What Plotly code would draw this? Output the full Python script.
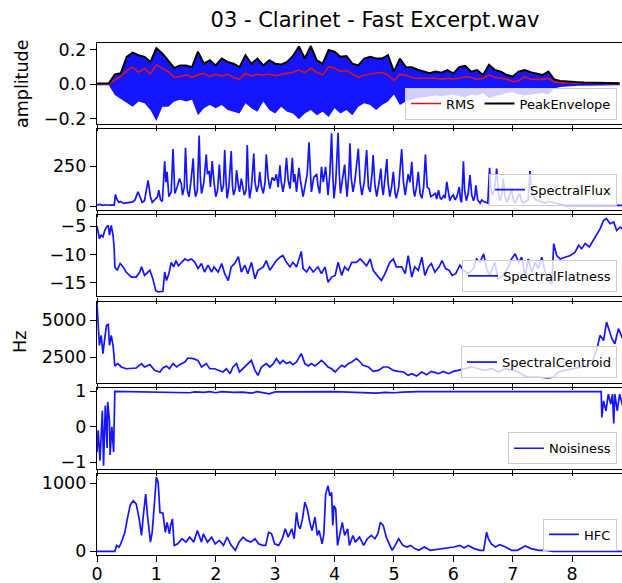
import numpy as np
import plotly.graph_objects as go

# ---------------- data ----------------
title_text = "03 - Clarinet - Fast Excerpt.wav"

amp_t = np.round(np.arange(0, 8.81, 0.1), 2)
peak_env = [0.005,0.005,0.006,0.058,0.064,0.16,0.185,0.17,0.16,0.13,
            0.21,0.18,0.14,0.095,0.11,0.11,0.10,0.19,0.12,0.14,
            0.11,0.15,0.13,0.12,0.10,0.17,0.12,0.15,0.11,0.14,
            0.12,0.115,0.13,0.165,0.22,0.15,0.223,0.14,0.12,0.20,
            0.19,0.16,0.165,0.12,0.11,0.15,0.16,0.15,0.15,0.17,
            0.074,0.15,0.10,0.10,0.085,0.074,0.064,0.074,0.068,0.083,
            0.064,0.10,0.107,0.074,0.083,0.054,0.113,0.083,0.074,0.054,
            0.045,0.074,0.083,0.070,0.060,0.054,0.074,0.028,0.020,0.016,
            0.014,0.012,0.010,0.010,0.008,0.007,0.006,0.006,0.006]
low_env = [-0.005,-0.005,-0.006,-0.062,-0.085,-0.11,-0.13,-0.10,-0.11,-0.15,
           -0.214,-0.13,-0.13,-0.10,-0.09,-0.10,-0.09,-0.18,-0.14,-0.12,
           -0.14,-0.12,-0.15,-0.16,-0.17,-0.11,-0.14,-0.16,-0.10,-0.15,
           -0.17,-0.13,-0.16,-0.17,-0.204,-0.17,-0.15,-0.18,-0.16,-0.19,
           -0.14,-0.17,-0.15,-0.18,-0.13,-0.11,-0.12,-0.15,-0.12,-0.10,
           -0.06,-0.12,-0.10,-0.09,-0.08,-0.075,-0.07,-0.065,-0.07,-0.065,
           -0.06,-0.07,-0.075,-0.06,-0.065,-0.05,-0.08,-0.07,-0.06,-0.05,
           -0.045,-0.06,-0.065,-0.06,-0.055,-0.05,-0.06,-0.025,-0.015,-0.012,
           -0.010,-0.009,-0.008,-0.008,-0.007,-0.006,-0.006,-0.005,-0.005]
rms = [0.002,0.002,0.002,0.025,0.045,0.08,0.10,0.07,0.093,0.06,
       0.113,0.093,0.075,0.04,0.045,0.055,0.042,0.055,0.064,0.045,
       0.058,0.048,0.058,0.04,0.029,0.064,0.048,0.058,0.054,0.06,
       0.05,0.058,0.062,0.07,0.083,0.068,0.093,0.07,0.055,0.103,
       0.093,0.075,0.08,0.062,0.04,0.054,0.06,0.064,0.07,0.054,
       0.021,0.058,0.054,0.04,0.035,0.035,0.035,0.035,0.03,0.035,
       0.03,0.035,0.045,0.04,0.029,0.035,0.054,0.04,0.035,0.03,
       0.015,0.021,0.045,0.03,0.029,0.029,0.035,0.014,0.01,0.009,
       0.008,0.007,0.006,0.006,0.005,0.005,0.004,0.004,0.004]

flux_t = [0.00,0.05,0.10,0.15,0.20,0.25,0.29,0.31,0.34,0.37,0.40,0.45,0.50,0.55,0.60,0.64,0.69,0.73,0.76,0.80,
          0.86,0.90,0.93,0.97,1.02,1.04,1.07,1.10,1.14,1.16,1.18,1.21,1.25,1.28,1.31,1.35,1.39,1.42,1.44,1.47,
          1.49,1.52,1.55,1.58,1.62,1.64,1.66,1.69,1.72,1.74,1.76,1.80,1.84,1.86,1.89,1.91,1.94,1.97,2.00,2.03,
          2.06,2.08,2.10,2.13,2.15,2.17,2.19,2.22,2.26,2.28,2.30,2.33,2.35,2.38,2.40,2.43,2.46,2.48,2.51,2.53,
          2.55,2.57,2.60,2.64,2.66,2.69,2.72,2.74,2.77,2.80,2.83,2.85,2.88,2.91,2.95,2.99,3.02,3.05,3.08,3.10,
          3.13,3.16,3.19,3.22,3.25,3.29,3.31,3.33,3.36,3.40,3.43,3.47,3.50,3.54,3.57,3.59,3.61,3.65,3.70,3.72,
          3.75,3.78,3.81,3.85,3.87,3.89,3.92,3.95,3.97,3.99,4.02,4.06,4.08,4.10,4.13,4.17,4.19,4.21,4.24,4.26,
          4.28,4.31,4.34,4.37,4.40,4.43,4.46,4.50,4.54,4.57,4.60,4.63,4.65,4.68,4.71,4.75,4.78,4.80,4.82,4.85,
          4.88,4.90,4.93,4.96,4.99,5.02,5.04,5.08,5.13,5.16,5.19,5.22,5.24,5.27,5.30,5.33,5.35,5.38,5.41,5.44,
          5.47,5.50,5.53,5.56,5.59,5.62,5.66,5.70,5.72,5.75,5.78,5.80,5.84,5.86,5.89,5.92,5.94,5.97,6.00,6.03,
          6.06,6.10,6.12,6.14,6.17,6.19,6.22,6.25,6.28,6.31,6.34,6.36,6.38,6.41,6.45,6.48,6.51,6.55,6.58,6.61,
          6.63,6.66,6.69,6.73,6.76,6.79,6.82,6.84,6.87,6.90,6.94,6.98,7.01,7.04,7.08,7.12,7.15,7.18,7.22,7.26,
          7.29,7.31,7.35,7.39,7.43,7.48,7.54,7.60,7.66,7.72,7.77,7.82,7.88,8.00,8.20,8.40,8.60,8.85]
flux_v = [8,12,6,10,7,9,8,73,40,25,30,18,22,25,28,40,90,55,25,35,
          162,60,25,40,60,100,40,30,281,150,215,60,90,356,80,120,173,140,70,120,
          365,100,60,150,298,120,60,100,440,180,80,150,323,200,220,120,281,150,60,100,
          260,150,90,130,350,180,50,120,344,130,70,110,225,130,90,173,110,70,100,381,
          150,50,120,329,150,90,130,215,120,80,150,323,180,110,180,160,200,120,256,160,
          90,150,302,160,110,302,150,200,90,240,150,60,120,200,398,200,90,180,200,130,
          80,246,150,246,150,70,200,455,200,50,150,458,200,80,160,260,150,60,200,392,
          180,90,150,260,360,150,70,150,350,120,90,200,319,130,60,150,235,120,70,180,
          294,150,60,120,215,80,50,120,356,150,70,150,200,150,277,100,60,120,215,80,
          50,120,323,120,110,60,70,80,45,100,50,45,70,50,152,60,35,60,70,40,
          60,120,40,25,281,100,35,80,194,70,35,60,131,40,20,40,30,25,20,240,
          120,70,100,235,80,35,80,173,60,25,60,110,40,20,50,80,30,20,30,40,
          219,120,60,40,35,30,20,30,25,18,12,10,6,7,6,7,6,6]

flat_t = [0.00,0.02,0.04,0.07,0.10,0.13,0.16,0.19,0.21,0.24,0.27,0.29,0.30,0.34,0.39,0.44,0.49,0.58,0.66,0.72,
          0.75,0.80,0.89,0.94,0.99,1.03,1.11,1.14,1.17,1.21,1.25,1.29,1.33,1.37,1.42,1.48,1.53,1.59,1.65,1.70,
          1.76,1.81,1.87,1.93,1.97,2.04,2.10,2.15,2.21,2.26,2.32,2.38,2.43,2.49,2.54,2.60,2.66,2.71,2.80,2.85,
          2.91,2.97,3.02,3.08,3.13,3.19,3.25,3.30,3.36,3.44,3.47,3.53,3.58,3.64,3.72,3.78,3.84,3.89,3.95,4.01,
          4.06,4.12,4.17,4.23,4.29,4.37,4.43,4.46,4.54,4.60,4.65,4.74,4.79,4.85,4.93,4.99,5.04,5.13,5.19,5.24,
          5.30,5.35,5.41,5.47,5.52,5.58,5.63,5.69,5.76,5.81,5.87,5.93,5.98,6.04,6.11,6.17,6.25,6.34,6.39,6.45,
          6.51,6.56,6.61,6.70,6.75,6.84,6.93,6.98,7.04,7.10,7.15,7.21,7.26,7.32,7.38,7.43,7.49,7.54,7.60,7.66,
          7.69,7.74,7.80,7.88,7.97,8.05,8.11,8.16,8.22,8.29,8.34,8.42,8.47,8.53,8.58,8.64,8.70,8.75,8.81,8.85]
flat_v = [-5.0,-6.0,-7.2,-6.6,-6.9,-5.8,-5.2,-4.9,-6.6,-4.9,-6.6,-9.0,-12.2,-12.8,-11.6,-12.2,-13.1,-14.0,-14.0,-13.1,
          -12.2,-13.7,-12.8,-14.3,-16.4,-16.6,-16.5,-13.1,-14.6,-13.4,-11.4,-12.2,-11.1,-12.0,-11.4,-10.8,-11.1,-10.8,-11.4,-12.5,
          -11.6,-13.1,-11.9,-13.1,-12.2,-13.1,-11.6,-13.4,-14.6,-12.2,-11.6,-10.4,-13.1,-11.9,-13.4,-11.4,-14.3,-12.8,-12.2,-11.1,
          -12.8,-11.9,-11.1,-10.5,-10.2,-11.4,-12.2,-11.4,-12.2,-9.5,-12.5,-13.1,-12.2,-13.1,-12.2,-13.4,-12.2,-14.9,-14.0,-13.7,
          -11.4,-13.7,-12.2,-12.8,-11.4,-11.4,-10.8,-11.1,-12.0,-10.8,-12.8,-14.0,-14.6,-13.4,-11.4,-10.8,-12.2,-12.2,-13.4,-10.2,
          -14.0,-12.2,-12.8,-10.5,-13.7,-12.2,-11.6,-13.1,-12.2,-11.1,-12.5,-12.8,-13.7,-13.4,-11.9,-12.8,-13.4,-12.5,-10.8,-11.4,
          -9.9,-12.5,-13.7,-11.4,-14.3,-13.7,-12.2,-10.8,-9.9,-11.4,-10.5,-14.0,-10.8,-13.1,-11.4,-12.5,-10.5,-12.8,-14.6,-15.2,
          -8.1,-10.2,-10.8,-10.5,-10.2,-9.6,-8.4,-9.0,-8.1,-8.7,-7.8,-6.6,-5.5,-4.0,-3.7,-4.6,-4.3,-5.8,-5.2,-5.5]

cent_t = [0.00,0.02,0.04,0.07,0.10,0.13,0.16,0.19,0.21,0.24,0.27,0.29,0.30,0.35,0.41,0.49,0.58,0.66,0.75,0.80,
          0.89,0.97,1.06,1.11,1.17,1.22,1.28,1.34,1.39,1.48,1.53,1.62,1.70,1.76,1.84,1.90,1.98,2.04,2.12,2.18,
          2.24,2.29,2.35,2.40,2.46,2.54,2.60,2.66,2.71,2.77,2.85,2.91,2.97,3.02,3.08,3.13,3.19,3.25,3.30,3.36,
          3.44,3.50,3.56,3.61,3.67,3.72,3.78,3.84,3.89,3.95,4.01,4.06,4.12,4.17,4.23,4.29,4.37,4.43,4.48,4.57,
          4.65,4.74,4.82,4.90,4.99,5.07,5.16,5.24,5.30,5.38,5.47,5.55,5.63,5.75,5.83,5.92,6.00,6.08,6.20,6.31,
          6.42,6.53,6.65,6.76,6.87,6.98,7.10,7.18,7.26,7.43,7.60,7.69,7.77,7.88,7.99,8.16,8.33,8.42,8.47,8.53,
          8.58,8.62,8.67,8.72,8.78,8.85]
cent_v = [6130,4660,3300,3975,2730,3750,4660,4725,3300,3975,3300,2390,1890,2050,1820,1700,1750,1750,2050,1820,
          1980,1590,1480,1750,1890,1700,2050,1820,1980,2160,2430,2390,2270,1820,2050,1700,1700,1590,1480,1700,
          1365,1820,2050,1480,1700,2050,2270,1590,1250,1820,2050,1820,2050,2390,2050,2270,2050,2160,1980,2160,
          2730,2050,1890,2050,1890,2050,2270,2050,1820,1700,1480,1700,1930,1820,2050,2160,2390,2160,1930,1820,
          1520,1590,1820,1820,1590,1520,1480,1250,1365,1200,1480,1300,1520,1365,1520,1365,1520,1590,1700,1820,
          1700,1590,1700,1480,1700,1590,1480,1250,1140,1140,1070,1140,1480,1590,1700,1820,2050,3070,3975,3630,
          4880,4300,3750,3400,4430,3750]

noise_t = [0.00,0.02,0.05,0.09,0.11,0.14,0.17,0.18,0.21,0.22,0.25,0.28,0.30,0.60,1.00,1.30,1.56,1.65,1.80,1.90,
           2.00,2.10,2.30,2.45,2.60,2.70,2.90,3.00,3.30,3.60,4.00,4.35,4.50,4.70,4.85,5.00,5.15,5.40,6.00,7.00,
           7.50,8.00,8.49,8.50,8.53,8.57,8.61,8.65,8.68,8.70,8.72,8.76,8.80,8.85]
noise_v = [-0.72,-0.10,-0.96,0.45,-1.10,0.60,-0.60,0.70,0.17,-0.80,0.00,-0.72,1.00,0.99,0.99,0.985,0.96,0.985,0.97,0.99,
           0.96,0.99,0.97,0.98,0.95,0.99,0.93,0.985,0.99,0.99,0.99,0.97,0.96,0.95,0.97,0.96,0.98,0.99,0.99,0.99,
           0.985,0.99,0.99,0.26,0.73,0.45,0.92,0.64,0.92,0.09,0.92,0.45,0.92,0.60]

hfc_t = [0.00,0.30,0.33,0.37,0.40,0.47,0.51,0.56,0.61,0.66,0.71,0.75,0.78,0.82,0.85,0.90,0.93,0.98,1.00,1.03,
         1.06,1.11,1.15,1.18,1.22,1.24,1.27,1.30,1.36,1.43,1.50,1.56,1.63,1.69,1.76,1.79,1.86,1.93,1.99,2.06,
         2.13,2.19,2.26,2.33,2.39,2.46,2.52,2.59,2.66,2.72,2.79,2.84,2.89,2.94,2.99,3.06,3.12,3.17,3.22,3.28,
         3.32,3.36,3.39,3.42,3.46,3.50,3.54,3.59,3.62,3.67,3.71,3.74,3.79,3.82,3.85,3.89,3.92,3.95,3.97,3.99,
         4.02,4.05,4.10,4.13,4.17,4.22,4.25,4.31,4.35,4.42,4.49,4.55,4.62,4.68,4.73,4.77,4.82,4.87,4.92,4.97,
         5.02,5.08,5.15,5.22,5.28,5.35,5.42,5.51,5.61,5.75,5.88,6.01,6.11,6.18,6.25,6.35,6.45,6.51,6.56,6.59,
         6.64,6.71,6.78,6.88,6.98,7.08,7.21,7.31,7.44,7.57,7.67,8.85]
hfc_v = [0,0,87,60,110,280,475,680,740,695,475,233,525,840,525,135,280,960,1090,1010,
         570,560,280,425,257,380,475,87,110,184,135,208,135,305,135,257,135,208,110,160,
         87,208,87,15,135,208,160,135,184,110,87,87,280,257,110,87,184,330,208,330,
         184,570,380,330,475,720,620,400,305,500,233,305,110,257,840,960,815,865,380,670,
         620,87,280,425,233,330,87,233,135,208,87,184,233,184,257,425,380,208,110,15,
         87,184,87,63,87,40,15,63,15,30,40,63,87,50,87,40,15,15,280,184,
         110,63,97,63,15,15,78,40,15,15,0,0]

x_ticks = [0, 1, 2, 3, 4, 5, 6, 7, 8]
y_ranges = [[-0.231, 0.2405], [-24, 480], [-17.4, -3.13], [757, 6273], [-1.19, 1.1], [-54, 1134]]
y_tickvals = [[-0.2, 0.0, 0.2], [0, 250], [-15, -10, -5], [2500, 5000], [-1, 0, 1], [0, 1000]]
y_ticktext = [["\u22120.2", "0.0", "0.2"], ["0", "250"], ["\u221215", "\u221210", "\u22125"],
              ["2500", "5000"], ["\u22121", "0", "1"], ["0", "1000"]]

# ---------------- layout geometry (pixels) ----------------
W, H = 622, 583
L = 97
panel_top = [43, 129.2, 215.4, 301.6, 387.8, 474]
panel_h = 81
FONT = "DejaVu Sans"
BLUE = "rgb(20,20,255)"

def py(px):
    return 1 - px / H

fig = go.Figure()

# panel 1: waveform fill + RMS + peak envelope
fig.add_trace(go.Scatter(x=amp_t, y=low_env, mode="lines", line=dict(width=0, color=BLUE),
                         showlegend=False, hoverinfo="skip", xaxis="x", yaxis="y"))
fig.add_trace(go.Scatter(x=amp_t, y=peak_env, mode="lines", line=dict(width=0, color=BLUE),
                         fill="tonexty", fillcolor=BLUE, showlegend=False, hoverinfo="skip",
                         xaxis="x", yaxis="y"))
fig.add_trace(go.Scatter(x=amp_t, y=rms, mode="lines", name="RMS",
                         line=dict(color="rgb(220,20,30)", width=1.6), xaxis="x", yaxis="y",
                         legend="legend"))
fig.add_trace(go.Scatter(x=amp_t, y=peak_env, mode="lines", name="PeakEnvelope",
                         line=dict(color="black", width=2), xaxis="x", yaxis="y",
                         legend="legend"))

series = [(flux_t, flux_v, "SpectralFlux"), (flat_t, flat_v, "SpectralFlatness"),
          (cent_t, cent_v, "SpectralCentroid"), (noise_t, noise_v, "Noisiness"),
          (hfc_t, hfc_v, "HFC")]
for i, (tx, vy, nm) in enumerate(series, start=2):
    fig.add_trace(go.Scatter(x=tx, y=vy, mode="lines", name=nm,
                             line=dict(color=BLUE, width=1.7),
                             xaxis=f"x{i}", yaxis=f"y{i}", legend=f"legend{i}"))

layout = dict(width=W, height=H, margin=dict(l=L, r=0, t=0, b=0, autoexpand=False),
              paper_bgcolor="white", plot_bgcolor="white",
              font=dict(family=FONT, size=17.5, color="black"),
              title=dict(text=title_text, x=375 / W, y=1 - 20 / H, xref="container", yref="container",
                         xanchor="center", yanchor="middle", font=dict(family=FONT, size=21)))

for k in range(6):
    sfx = "" if k == 0 else str(k + 1)
    top = panel_top[k]
    bot = top + panel_h
    xa = dict(domain=[0, 1], range=[0, 8.84], anchor="y" + sfx,
              showline=True, mirror=True, linecolor="black", linewidth=1.3,
              ticks="outside", ticklen=6, tickwidth=1.3, tickcolor="black",
              tickvals=x_ticks, ticktext=[str(v) for v in x_ticks],
              showticklabels=(k == 5), showgrid=False, zeroline=False,
              tickfont=dict(size=17.5))
    if k == 5:
        xa["ticklabelstandoff"] = -3
    layout["xaxis" + sfx] = xa
    layout["yaxis" + sfx] = dict(domain=[py(bot), py(top)], range=y_ranges[k], anchor="x" + sfx,
                                 showline=True, mirror=False, linecolor="black", linewidth=1.3,
                                 ticks="outside", ticklen=6, tickwidth=1.3, tickcolor="black",
                                 tickvals=y_tickvals[k], ticktext=y_ticktext[k],
                                 showgrid=False, zeroline=False, tickfont=dict(size=17.5))
    leg = dict(xref="paper", yref="paper", x=(617 - L) / (W - L), xanchor="right",
               y=py(bot - 4.5), yanchor="bottom", traceorder="normal",
               bgcolor="rgba(255,255,255,0.8)", bordercolor="#cccccc", borderwidth=1,
               font=dict(family=FONT, size=13), itemwidth=30)
    if k == 0:
        leg["orientation"] = "h"
    layout["legend" if k == 0 else f"legend{k + 1}"] = leg

layout["annotations"] = [
    dict(text="amplitude", xref="paper", yref="paper", x=(22 - L) / (W - L), y=py(84),
         xanchor="center", yanchor="middle", textangle=-90, showarrow=False,
         font=dict(family=FONT, size=17.5)),
    dict(text="Hz", xref="paper", yref="paper", x=(20 - L) / (W - L), y=py(342),
         xanchor="center", yanchor="middle", textangle=-90, showarrow=False,
         font=dict(family=FONT, size=17.5)),
]

fig.update_layout(**layout)
fig.write_html("out.html", config={"displayModeBar": False},
               post_script="document.body.style.margin='0';document.body.style.padding='0';"
                           "document.documentElement.style.overflow='hidden';")
